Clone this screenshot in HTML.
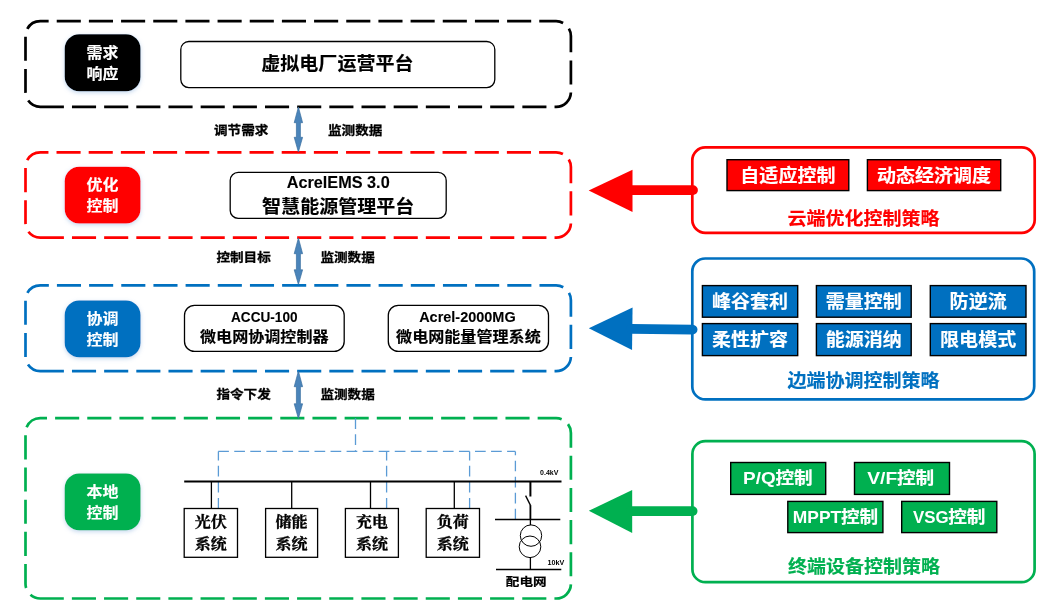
<!DOCTYPE html>
<html lang="zh-CN">
<head>
<meta charset="utf-8">
<title>微电网分层控制架构</title>
<style>
html,body{margin:0;padding:0;background:#fff;}
body{width:1062px;height:611px;overflow:hidden;font-family:"Liberation Sans", "Noto Sans CJK SC", sans-serif;}
svg{display:block;will-change:transform;}
</style>
</head>
<body>
<svg width="1062" height="611" viewBox="0 0 1062 611">
<defs>
<filter id="sh" x="-20%" y="-20%" width="140%" height="150%">
<feDropShadow dx="0" dy="1.5" stdDeviation="2.2" flood-color="#7aa7d9" flood-opacity="0.45"/>
</filter>
</defs>
<rect x="0" y="0" width="1062" height="611" fill="#fff"/>
<path d="M40.3,106.8 L556.1,106.8 A14.8,14.8 0 0 0 570.9,92.0 L570.9,36.0 A14.8,14.8 0 0 0 556.1,21.2 L40.3,21.2 A14.8,14.8 0 0 0 25.5,36.0 L25.5,92.0 A14.8,14.8 0 0 0 40.3,106.8 Z" fill="none" stroke="#000000" stroke-width="2.7" stroke-dasharray="24.1 8.07" stroke-dashoffset="0.5"/>
<path d="M40.3,237.7 L556.1,237.7 A14.8,14.8 0 0 0 570.9,222.89999999999998 L570.9,167.10000000000002 A14.8,14.8 0 0 0 556.1,152.3 L40.3,152.3 A14.8,14.8 0 0 0 25.5,167.10000000000002 L25.5,222.89999999999998 A14.8,14.8 0 0 0 40.3,237.7 Z" fill="none" stroke="#FF0000" stroke-width="2.7" stroke-dasharray="24.1 8.07" stroke-dashoffset="0.5"/>
<path d="M40.3,371.2 L556.1,371.2 A14.8,14.8 0 0 0 570.9,356.4 L570.9,300.2 A14.8,14.8 0 0 0 556.1,285.4 L40.3,285.4 A14.8,14.8 0 0 0 25.5,300.2 L25.5,356.4 A14.8,14.8 0 0 0 40.3,371.2 Z" fill="none" stroke="#0070C0" stroke-width="2.7" stroke-dasharray="24.1 8.07" stroke-dashoffset="0.5"/>
<path d="M40.2,598.5 L556.1999999999999,598.5 A14.7,14.7 0 0 0 570.9,583.8 L570.9,432.9 A14.7,14.7 0 0 0 556.1999999999999,418.2 L40.2,418.2 A14.7,14.7 0 0 0 25.5,432.9 L25.5,583.8 A14.7,14.7 0 0 0 40.2,598.5 Z" fill="none" stroke="#00B050" stroke-width="2.7" stroke-dasharray="24.1 8.07" stroke-dashoffset="0.5"/>
<rect x="64.7" y="34.3" width="75.8" height="57.0" rx="14.5" ry="14.5" fill="#000000" filter="url(#sh)"/>
<text transform="translate(102.6,57.8) scale(1,0.91)" font-size="16.0" fill="#fff" stroke="#fff" stroke-width="0.15" font-family='"Liberation Sans", "Noto Sans CJK SC", sans-serif' font-weight="bold" text-anchor="middle" >需求</text>
<text transform="translate(102.6,79.0) scale(1,0.91)" font-size="16.0" fill="#fff" stroke="#fff" stroke-width="0.15" font-family='"Liberation Sans", "Noto Sans CJK SC", sans-serif' font-weight="bold" text-anchor="middle" >响应</text>
<rect x="64.7" y="166.8" width="75.8" height="56.599999999999994" rx="14.5" ry="14.5" fill="#FF0000" filter="url(#sh)"/>
<text transform="translate(102.6,190.10000000000002) scale(1,0.91)" font-size="16.0" fill="#fff" stroke="#fff" stroke-width="0.15" font-family='"Liberation Sans", "Noto Sans CJK SC", sans-serif' font-weight="bold" text-anchor="middle" >优化</text>
<text transform="translate(102.6,211.3) scale(1,0.91)" font-size="16.0" fill="#fff" stroke="#fff" stroke-width="0.15" font-family='"Liberation Sans", "Noto Sans CJK SC", sans-serif' font-weight="bold" text-anchor="middle" >控制</text>
<rect x="64.7" y="300.5" width="75.8" height="56.69999999999999" rx="14.5" ry="14.5" fill="#0070C0" filter="url(#sh)"/>
<text transform="translate(102.6,323.85) scale(1,0.91)" font-size="16.0" fill="#fff" stroke="#fff" stroke-width="0.15" font-family='"Liberation Sans", "Noto Sans CJK SC", sans-serif' font-weight="bold" text-anchor="middle" >协调</text>
<text transform="translate(102.6,345.05) scale(1,0.91)" font-size="16.0" fill="#fff" stroke="#fff" stroke-width="0.15" font-family='"Liberation Sans", "Noto Sans CJK SC", sans-serif' font-weight="bold" text-anchor="middle" >控制</text>
<rect x="64.7" y="473.4" width="75.8" height="56.89999999999998" rx="14.5" ry="14.5" fill="#00B050" filter="url(#sh)"/>
<text transform="translate(102.6,496.84999999999997) scale(1,0.91)" font-size="16.0" fill="#fff" stroke="#fff" stroke-width="0.15" font-family='"Liberation Sans", "Noto Sans CJK SC", sans-serif' font-weight="bold" text-anchor="middle" >本地</text>
<text transform="translate(102.6,518.05) scale(1,0.91)" font-size="16.0" fill="#fff" stroke="#fff" stroke-width="0.15" font-family='"Liberation Sans", "Noto Sans CJK SC", sans-serif' font-weight="bold" text-anchor="middle" >控制</text>
<rect x="180.8" y="41.5" width="314.0" height="46.099999999999994" rx="8" ry="8" fill="#fff" stroke="#000" stroke-width="1.3"/>
<text transform="translate(337.4,70.3) scale(1,0.94)" font-size="19.04" fill="#000" stroke="#000" stroke-width="0.15" font-family='"Liberation Sans", "Noto Sans CJK SC", sans-serif' font-weight="bold" text-anchor="middle" >虚拟电厂运营平台</text>
<rect x="230.2" y="172.4" width="216.0" height="46.0" rx="8" ry="8" fill="#fff" stroke="#000" stroke-width="1.3"/>
<text x="338.2" y="187.7" font-size="17.3" fill="#000" stroke="#000" stroke-width="0.1" font-family='"Liberation Sans", "Noto Sans CJK SC", sans-serif' font-weight="bold" text-anchor="middle" textLength="103" lengthAdjust="spacingAndGlyphs">AcrelEMS 3.0</text>
<text transform="translate(338.2,213) scale(1,0.94)" font-size="19.04" fill="#000" stroke="#000" stroke-width="0.15" font-family='"Liberation Sans", "Noto Sans CJK SC", sans-serif' font-weight="bold" text-anchor="middle" >智慧能源管理平台</text>
<rect x="184.5" y="305.3" width="159.7" height="46.099999999999966" rx="10" ry="10" fill="#fff" stroke="#000" stroke-width="1.3"/>
<text x="264.3" y="321.9" font-size="14.8" fill="#000" stroke="#000" stroke-width="0.1" font-family='"Liberation Sans", "Noto Sans CJK SC", sans-serif' font-weight="bold" text-anchor="middle" textLength="66.5" lengthAdjust="spacingAndGlyphs">ACCU-100</text>
<text transform="translate(264.3,342.4) scale(1,0.94)" font-size="16.08" fill="#000" stroke="#000" stroke-width="0.15" font-family='"Liberation Sans", "Noto Sans CJK SC", sans-serif' font-weight="bold" text-anchor="middle" >微电网协调控制器</text>
<rect x="388.3" y="305.3" width="160.2" height="46.099999999999966" rx="10" ry="10" fill="#fff" stroke="#000" stroke-width="1.3"/>
<text x="467.4" y="321.9" font-size="14.8" fill="#000" stroke="#000" stroke-width="0.1" font-family='"Liberation Sans", "Noto Sans CJK SC", sans-serif' font-weight="bold" text-anchor="middle" textLength="96.5" lengthAdjust="spacingAndGlyphs">Acrel-2000MG</text>
<text transform="translate(468.4,342.4) scale(1,0.94)" font-size="16.08" fill="#000" stroke="#000" stroke-width="0.15" font-family='"Liberation Sans", "Noto Sans CJK SC", sans-serif' font-weight="bold" text-anchor="middle" >微电网能量管理系统</text>
<path d="M298.4,107 L302.59999999999997,122.7 L300.4,122.7 L300.4,137.3 L302.59999999999997,137.3 L298.4,152 L294.2,137.3 L296.4,137.3 L296.4,122.7 L294.2,122.7 Z" fill="#4A84BA" stroke="#3A6E9F" stroke-width="0.7" stroke-linejoin="miter"/>
<path d="M298.4,238 L302.59999999999997,253.7 L300.4,253.7 L300.4,269.8 L302.59999999999997,269.8 L298.4,284.5 L294.2,269.8 L296.4,269.8 L296.4,253.7 L294.2,253.7 Z" fill="#4A84BA" stroke="#3A6E9F" stroke-width="0.7" stroke-linejoin="miter"/>
<path d="M298.4,371 L302.59999999999997,386.7 L300.4,386.7 L300.4,403.8 L302.59999999999997,403.8 L298.4,418.5 L294.2,403.8 L296.4,403.8 L296.4,386.7 L294.2,386.7 Z" fill="#4A84BA" stroke="#3A6E9F" stroke-width="0.7" stroke-linejoin="miter"/>
<text transform="translate(241.2,134.7) scale(1,0.9)" font-size="13.6" fill="#000" stroke="#000" stroke-width="0.3" font-family='"Liberation Sans", "Noto Sans CJK SC", sans-serif' font-weight="bold" text-anchor="middle" >调节需求</text>
<text transform="translate(355.2,134.7) scale(1,0.9)" font-size="13.6" fill="#000" stroke="#000" stroke-width="0.3" font-family='"Liberation Sans", "Noto Sans CJK SC", sans-serif' font-weight="bold" text-anchor="middle" >监测数据</text>
<text transform="translate(243.6,261.9) scale(1,0.9)" font-size="13.6" fill="#000" stroke="#000" stroke-width="0.3" font-family='"Liberation Sans", "Noto Sans CJK SC", sans-serif' font-weight="bold" text-anchor="middle" >控制目标</text>
<text transform="translate(347.6,261.9) scale(1,0.9)" font-size="13.6" fill="#000" stroke="#000" stroke-width="0.3" font-family='"Liberation Sans", "Noto Sans CJK SC", sans-serif' font-weight="bold" text-anchor="middle" >监测数据</text>
<text transform="translate(243.6,398.5) scale(1,0.9)" font-size="13.6" fill="#000" stroke="#000" stroke-width="0.3" font-family='"Liberation Sans", "Noto Sans CJK SC", sans-serif' font-weight="bold" text-anchor="middle" >指令下发</text>
<text transform="translate(347.6,398.5) scale(1,0.9)" font-size="13.6" fill="#000" stroke="#000" stroke-width="0.3" font-family='"Liberation Sans", "Noto Sans CJK SC", sans-serif' font-weight="bold" text-anchor="middle" >监测数据</text>
<g fill="none" stroke="#5B9BD5" stroke-width="1.3" stroke-dasharray="10.7 5.35">
<path d="M355.5,418.2 L355.5,451.4"/>
<path d="M218.2,451.4 L515.4,451.4"/>
<path d="M218.4,508.6 L218.4,451.4"/>
<path d="M386.6,508.6 L386.6,451.4"/>
<path d="M469.6,508.6 L469.6,451.4"/>
<path d="M515.4,519.5 L515.4,451.4"/>
</g>
<line x1="184.2" y1="481.5" x2="561.5" y2="481.5" stroke="#000" stroke-width="2"/>
<line x1="211.4" y1="481.5" x2="211.4" y2="508.5" stroke="#000" stroke-width="1.3"/>
<rect x="184.2" y="508.5" width="53.30000000000001" height="48.8" fill="#fff" stroke="#000" stroke-width="1.3"/>
<text transform="translate(210.85,526.6) scale(1,0.94)" font-size="16.0" fill="#000" stroke="#000" stroke-width="0.35" font-family='"Liberation Serif", "Noto Serif CJK SC", serif' font-weight="bold" text-anchor="middle" >光伏</text>
<text transform="translate(210.85,548.9) scale(1,0.94)" font-size="16.0" fill="#000" stroke="#000" stroke-width="0.35" font-family='"Liberation Serif", "Noto Serif CJK SC", serif' font-weight="bold" text-anchor="middle" >系统</text>
<line x1="291.7" y1="481.5" x2="291.7" y2="508.5" stroke="#000" stroke-width="1.3"/>
<rect x="265.6" y="508.5" width="52.0" height="48.8" fill="#fff" stroke="#000" stroke-width="1.3"/>
<text transform="translate(291.6,526.6) scale(1,0.94)" font-size="16.0" fill="#000" stroke="#000" stroke-width="0.35" font-family='"Liberation Serif", "Noto Serif CJK SC", serif' font-weight="bold" text-anchor="middle" >储能</text>
<text transform="translate(291.6,548.9) scale(1,0.94)" font-size="16.0" fill="#000" stroke="#000" stroke-width="0.35" font-family='"Liberation Serif", "Noto Serif CJK SC", serif' font-weight="bold" text-anchor="middle" >系统</text>
<line x1="370.5" y1="481.5" x2="370.5" y2="508.5" stroke="#000" stroke-width="1.3"/>
<rect x="345.4" y="508.5" width="53.0" height="48.8" fill="#fff" stroke="#000" stroke-width="1.3"/>
<text transform="translate(371.9,526.6) scale(1,0.94)" font-size="16.0" fill="#000" stroke="#000" stroke-width="0.35" font-family='"Liberation Serif", "Noto Serif CJK SC", serif' font-weight="bold" text-anchor="middle" >充电</text>
<text transform="translate(371.9,548.9) scale(1,0.94)" font-size="16.0" fill="#000" stroke="#000" stroke-width="0.35" font-family='"Liberation Serif", "Noto Serif CJK SC", serif' font-weight="bold" text-anchor="middle" >系统</text>
<line x1="454.3" y1="481.5" x2="454.3" y2="508.5" stroke="#000" stroke-width="1.3"/>
<rect x="426.2" y="508.5" width="53.30000000000001" height="48.8" fill="#fff" stroke="#000" stroke-width="1.3"/>
<text transform="translate(452.85,526.6) scale(1,0.94)" font-size="16.0" fill="#000" stroke="#000" stroke-width="0.35" font-family='"Liberation Serif", "Noto Serif CJK SC", serif' font-weight="bold" text-anchor="middle" >负荷</text>
<text transform="translate(452.85,548.9) scale(1,0.94)" font-size="16.0" fill="#000" stroke="#000" stroke-width="0.35" font-family='"Liberation Serif", "Noto Serif CJK SC", serif' font-weight="bold" text-anchor="middle" >系统</text>
<g fill="none" stroke="#000" stroke-width="1.3">
<line x1="530.4" y1="481.5" x2="530.4" y2="496.5" stroke-width="2"/>
<line x1="525.6" y1="495.6" x2="530.6" y2="505.6"/>
<line x1="530.4" y1="505.2" x2="530.4" y2="519.5" stroke-width="1.8"/>
<line x1="530.4" y1="519.5" x2="530.4" y2="525"/>
<line x1="495" y1="519.5" x2="560.3" y2="519.5"/>
<circle cx="531" cy="535.6" r="10.7" stroke-width="1"/>
<circle cx="530" cy="546.8" r="10.8" stroke-width="1"/>
<line x1="530.4" y1="557.6" x2="530.4" y2="569.5"/>
<line x1="496" y1="569.5" x2="561.3" y2="569.5"/>
</g>
<text x="549.2" y="475" font-size="7.4" fill="#000" font-family='"Liberation Sans", "Noto Sans CJK SC", sans-serif' font-weight="bold" text-anchor="middle" textLength="18.3" lengthAdjust="spacingAndGlyphs">0.4kV</text>
<text x="555.8" y="565.1" font-size="7.4" fill="#000" font-family='"Liberation Sans", "Noto Sans CJK SC", sans-serif' font-weight="bold" text-anchor="middle" textLength="16.8" lengthAdjust="spacingAndGlyphs">10kV</text>
<text transform="translate(526.2,585.6) scale(1,0.85)" font-size="13.6" fill="#000" stroke="#000" stroke-width="0.25" font-family='"Liberation Sans", "Noto Sans CJK SC", sans-serif' font-weight="bold" text-anchor="middle" >配电网</text>
<rect x="692.3" y="147.4" width="342.4000000000001" height="85.4" rx="13" ry="13" fill="#fff" stroke="#FF0000" stroke-width="2.7"/>
<rect x="727" y="159.7" width="121.79999999999995" height="30.900000000000006" fill="#FF0000" stroke="#000" stroke-width="1.4"/>
<text transform="translate(787.9,181.95) scale(1,0.94)" font-size="19.04" fill="#fff" stroke="#fff" stroke-width="0.15" font-family='"Liberation Sans", "Noto Sans CJK SC", sans-serif' font-weight="bold" text-anchor="middle" >自适应控制</text>
<rect x="867.4" y="159.7" width="133.30000000000007" height="30.900000000000006" fill="#FF0000" stroke="#000" stroke-width="1.4"/>
<text transform="translate(934.05,181.95) scale(1,0.94)" font-size="19.04" fill="#fff" stroke="#fff" stroke-width="0.15" font-family='"Liberation Sans", "Noto Sans CJK SC", sans-serif' font-weight="bold" text-anchor="middle" >动态经济调度</text>
<text transform="translate(863.5,225) scale(1,0.94)" font-size="19.04" fill="#FF0000" stroke="#FF0000" stroke-width="0.15" font-family='"Liberation Sans", "Noto Sans CJK SC", sans-serif' font-weight="bold" text-anchor="middle" >云端优化控制策略</text>
<g transform="rotate(0 693 190.1)">
<path d="M588.7,190.4 L632.5,169.70000000000002 L632.5,212.1 Z" fill="#FF0000"/>
<line x1="631.5" y1="190.1" x2="693" y2="190.1" stroke="#FF0000" stroke-width="9.8" stroke-linecap="round"/>
</g>
<rect x="692.3" y="258.5" width="341.9000000000001" height="140.89999999999998" rx="13" ry="13" fill="#fff" stroke="#0070C0" stroke-width="2.7"/>
<rect x="702.4" y="285.6" width="95.30000000000007" height="31.599999999999966" fill="#0070C0" stroke="#000" stroke-width="1.4"/>
<text transform="translate(750.05,308.2) scale(1,0.94)" font-size="19.04" fill="#fff" stroke="#fff" stroke-width="0.15" font-family='"Liberation Sans", "Noto Sans CJK SC", sans-serif' font-weight="bold" text-anchor="middle" >峰谷套利</text>
<rect x="816.4" y="285.6" width="94.80000000000007" height="31.599999999999966" fill="#0070C0" stroke="#000" stroke-width="1.4"/>
<text transform="translate(863.8,308.2) scale(1,0.94)" font-size="19.04" fill="#fff" stroke="#fff" stroke-width="0.15" font-family='"Liberation Sans", "Noto Sans CJK SC", sans-serif' font-weight="bold" text-anchor="middle" >需量控制</text>
<rect x="930.3" y="285.6" width="95.70000000000005" height="31.599999999999966" fill="#0070C0" stroke="#000" stroke-width="1.4"/>
<text transform="translate(978.15,308.2) scale(1,0.94)" font-size="19.04" fill="#fff" stroke="#fff" stroke-width="0.15" font-family='"Liberation Sans", "Noto Sans CJK SC", sans-serif' font-weight="bold" text-anchor="middle" >防逆流</text>
<rect x="702.4" y="323.6" width="95.30000000000007" height="32.0" fill="#0070C0" stroke="#000" stroke-width="1.4"/>
<text transform="translate(750.05,346.40000000000003) scale(1,0.94)" font-size="19.04" fill="#fff" stroke="#fff" stroke-width="0.15" font-family='"Liberation Sans", "Noto Sans CJK SC", sans-serif' font-weight="bold" text-anchor="middle" >柔性扩容</text>
<rect x="816.4" y="323.6" width="94.80000000000007" height="32.0" fill="#0070C0" stroke="#000" stroke-width="1.4"/>
<text transform="translate(863.8,346.40000000000003) scale(1,0.94)" font-size="19.04" fill="#fff" stroke="#fff" stroke-width="0.15" font-family='"Liberation Sans", "Noto Sans CJK SC", sans-serif' font-weight="bold" text-anchor="middle" >能源消纳</text>
<rect x="930.3" y="323.6" width="95.70000000000005" height="32.0" fill="#0070C0" stroke="#000" stroke-width="1.4"/>
<text transform="translate(978.15,346.40000000000003) scale(1,0.94)" font-size="19.04" fill="#fff" stroke="#fff" stroke-width="0.15" font-family='"Liberation Sans", "Noto Sans CJK SC", sans-serif' font-weight="bold" text-anchor="middle" >限电模式</text>
<text transform="translate(863.5,387) scale(1,0.94)" font-size="19.04" fill="#0070C0" stroke="#0070C0" stroke-width="0.15" font-family='"Liberation Sans", "Noto Sans CJK SC", sans-serif' font-weight="bold" text-anchor="middle" >边端协调控制策略</text>
<g transform="rotate(0.69 692.6 329.55)">
<path d="M588.8,329.55 L632.3,308.25 L632.3,350.85 Z" fill="#0070C0"/>
<line x1="631.3" y1="329.55" x2="692.6" y2="329.55" stroke="#0070C0" stroke-width="9.8" stroke-linecap="round"/>
</g>
<rect x="692.4" y="441.1" width="342.19999999999993" height="141.10000000000002" rx="13" ry="13" fill="#fff" stroke="#00B050" stroke-width="2.7"/>
<rect x="730.7" y="462.5" width="95.0" height="31.899999999999977" fill="#00B050" stroke="#000" stroke-width="1.4"/>
<text x="775.7" y="484.3" font-size="17.3" fill="#fff" font-family='"Liberation Sans", "Noto Sans CJK SC", sans-serif' font-weight="bold" text-anchor="end" textLength="32.6" lengthAdjust="spacingAndGlyphs">P/Q</text>
<text transform="translate(775.4,484.3) scale(1,0.94)" font-size="18.67" fill="#fff" stroke="#fff" stroke-width="0.15" font-family='"Liberation Sans", "Noto Sans CJK SC", sans-serif' font-weight="bold" text-anchor="start" >控制</text>
<rect x="854.5" y="462.5" width="95.0" height="31.899999999999977" fill="#00B050" stroke="#000" stroke-width="1.4"/>
<text x="897.2" y="484.3" font-size="17.3" fill="#fff" font-family='"Liberation Sans", "Noto Sans CJK SC", sans-serif' font-weight="bold" text-anchor="end" textLength="29.9" lengthAdjust="spacingAndGlyphs">V/F</text>
<text transform="translate(896.9,484.3) scale(1,0.94)" font-size="18.67" fill="#fff" stroke="#fff" stroke-width="0.15" font-family='"Liberation Sans", "Noto Sans CJK SC", sans-serif' font-weight="bold" text-anchor="start" >控制</text>
<rect x="787.8" y="501.4" width="95.10000000000002" height="31.200000000000045" fill="#00B050" stroke="#000" stroke-width="1.4"/>
<text x="841.2" y="523.3" font-size="17.3" fill="#fff" font-family='"Liberation Sans", "Noto Sans CJK SC", sans-serif' font-weight="bold" text-anchor="end" textLength="48.4" lengthAdjust="spacingAndGlyphs">MPPT</text>
<text transform="translate(840.9,523.3) scale(1,0.94)" font-size="18.67" fill="#fff" stroke="#fff" stroke-width="0.15" font-family='"Liberation Sans", "Noto Sans CJK SC", sans-serif' font-weight="bold" text-anchor="start" >控制</text>
<rect x="901.7" y="501.4" width="95.09999999999991" height="31.200000000000045" fill="#00B050" stroke="#000" stroke-width="1.4"/>
<text x="948.5" y="523.3" font-size="17.3" fill="#fff" font-family='"Liberation Sans", "Noto Sans CJK SC", sans-serif' font-weight="bold" text-anchor="end" textLength="35.6" lengthAdjust="spacingAndGlyphs">VSG</text>
<text transform="translate(948.1999999999999,523.3) scale(1,0.94)" font-size="18.67" fill="#fff" stroke="#fff" stroke-width="0.15" font-family='"Liberation Sans", "Noto Sans CJK SC", sans-serif' font-weight="bold" text-anchor="start" >控制</text>
<text transform="translate(864,572.9) scale(1,0.94)" font-size="19.04" fill="#00B050" stroke="#00B050" stroke-width="0.15" font-family='"Liberation Sans", "Noto Sans CJK SC", sans-serif' font-weight="bold" text-anchor="middle" >终端设备控制策略</text>
<g transform="rotate(0 692.6 511.1)">
<path d="M588.8,510.8 L632.2,490.0 L632.2,533.0 Z" fill="#00B050"/>
<line x1="631.2" y1="511.1" x2="692.6" y2="511.1" stroke="#00B050" stroke-width="9.8" stroke-linecap="round"/>
</g>
</svg>
</body>
</html>
